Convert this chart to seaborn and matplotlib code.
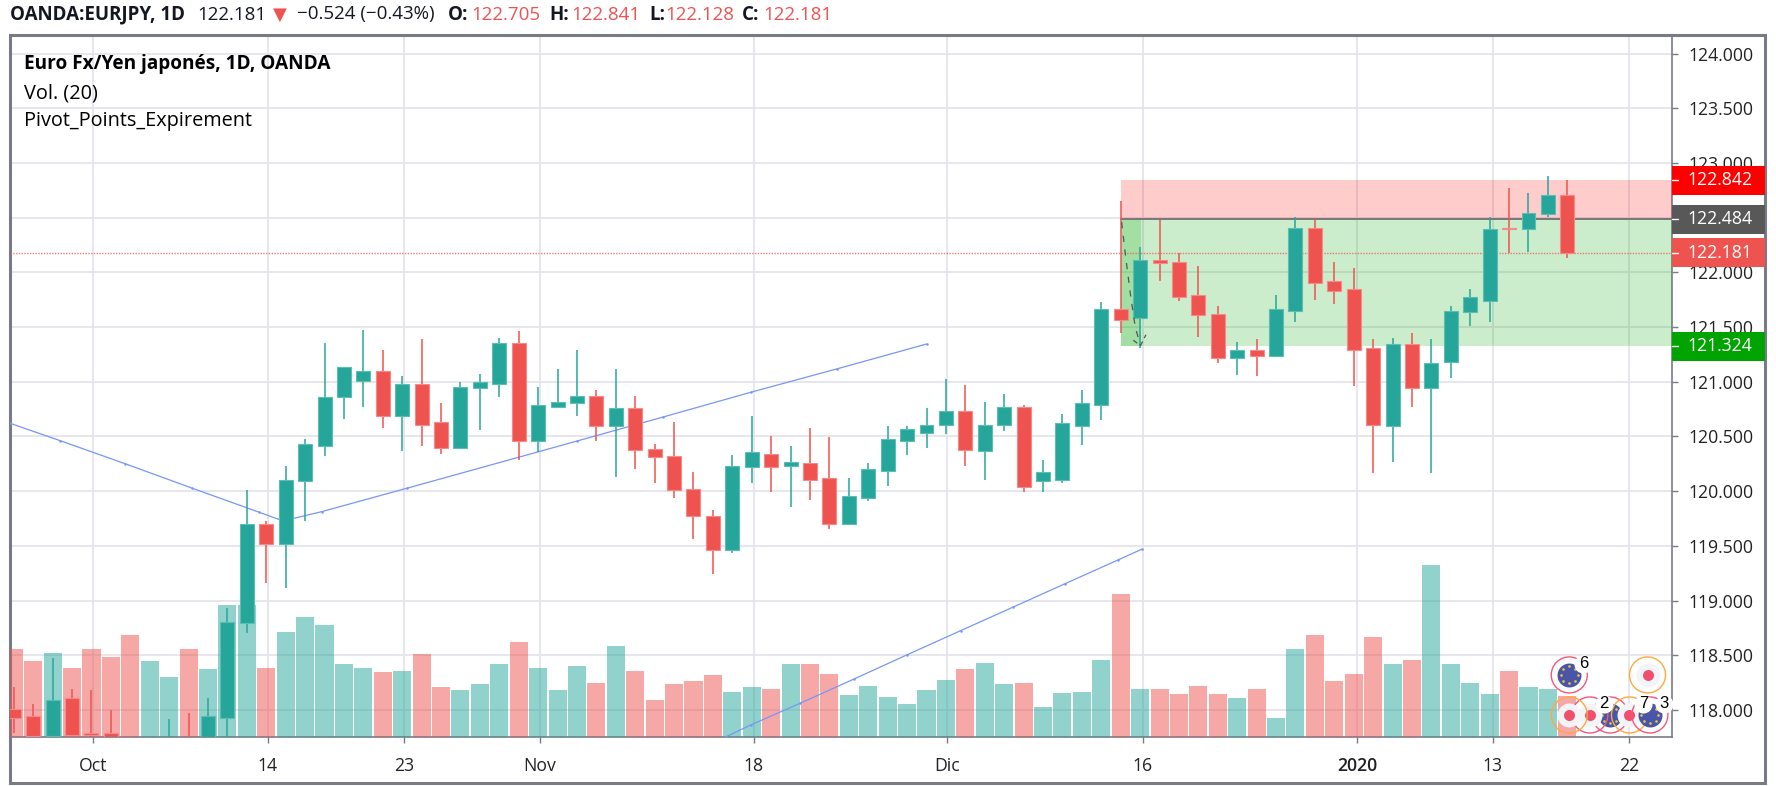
import numpy as np
import pandas as pd
import matplotlib
matplotlib.use("Agg")
import matplotlib.pyplot as plt
from matplotlib.patches import Rectangle
from matplotlib.transforms import ScaledTranslation
import seaborn as sns

W, H = 1776, 786

opens = [118.012,117.942,117.759,118.107,117.79,117.79,117.6,117.5,117.6,117.7,117.6,117.927,118.792,119.70,119.52,120.09,120.413,120.861,121.01,121.096,120.69,120.98,120.632,120.398,120.941,120.983,121.357,120.459,120.772,120.803,120.873,120.593,120.758,120.383,120.324,120.02,119.77,119.462,120.218,120.34,120.233,120.255,120.118,119.703,119.938,120.187,120.456,120.535,120.605,120.73,120.37,120.608,120.772,120.093,120.102,120.593,120.788,121.665,121.58,122.11,122.098,121.791,121.622,121.22,121.288,121.233,121.65,122.406,121.919,121.845,121.306,120.593,121.343,120.941,121.178,121.641,121.741,122.409,122.397,122.534,122.705]
closes = [117.927,117.759,118.091,117.771,117.771,117.68,117.5,117.6,117.7,117.55,117.942,118.804,119.70,119.52,120.10,120.429,120.858,121.132,121.096,120.69,120.98,120.608,120.398,120.952,120.995,121.357,120.459,120.788,120.813,120.873,120.593,120.758,120.374,120.315,120.011,119.773,119.462,120.23,120.356,120.218,120.27,120.105,119.703,119.953,120.2,120.477,120.566,120.605,120.733,120.374,120.605,120.772,120.038,120.175,120.621,120.803,121.665,121.568,122.113,122.086,121.778,121.611,121.22,121.288,121.236,121.663,122.406,121.906,121.833,121.293,120.608,121.343,120.941,121.175,121.65,121.772,122.394,122.394,122.543,122.71,122.181]
highs = [118.21,118.055,118.472,118.192,118.18,118.0,117.65,117.65,117.915,117.97,118.107,118.932,120.011,119.728,120.23,120.477,121.357,121.132,121.471,121.291,121.05,121.388,120.803,120.995,121.069,121.398,121.467,120.952,121.117,121.291,120.925,121.117,120.873,120.429,120.635,120.173,119.825,120.328,120.687,120.507,120.41,120.578,120.493,120.118,120.255,120.593,120.593,120.758,121.023,120.968,120.815,120.888,120.785,120.285,120.703,120.925,121.727,122.655,122.235,122.479,122.175,122.056,121.696,121.361,121.388,121.791,122.504,122.485,122.098,122.04,121.388,121.398,121.443,121.388,121.696,121.845,122.504,122.769,122.723,122.878,122.841]
lows = [117.787,117.65,117.68,117.68,117.68,117.634,117.45,117.45,117.5,117.5,117.55,117.68,118.707,119.164,119.115,119.728,120.324,120.663,120.772,120.58,120.37,120.413,120.343,120.398,120.562,120.861,120.285,120.358,120.772,120.69,120.456,120.132,120.206,120.075,119.938,119.56,119.24,119.432,120.075,119.993,119.853,119.922,119.657,119.703,119.908,120.045,120.328,120.398,120.52,120.23,120.102,120.55,119.996,119.993,120.079,120.422,120.651,121.443,121.306,121.919,121.739,121.412,121.175,121.065,121.053,121.233,121.544,121.75,121.708,120.964,120.162,120.267,120.772,120.162,121.037,121.513,121.544,122.175,122.186,122.504,122.128]
volumes = [88,76,84.7,69.7,88,80.7,102,76,60.3,88,68,132,132,69.7,105.3,120,112.3,73,69.7,65,66.7,83.3,50,47,53.3,73,95.7,69.7,47,71.3,54.7,91,66.7,37.3,53.3,56.3,62,45.3,50,48.3,73,73,63.3,42,51.3,40.7,33.3,47,57.3,68,74.3,53.3,54.6,30.5,44,45,77.3,143,48.3,48.3,43,51.3,43,39,48.3,19,88,102.3,56.3,63.6,100.6,73,77.3,172.3,73,54.6,43.6,66.6,50,48.3,41]

tick_pos = [4.08,13.08,20.08,27.08,38.1,48.08,58.15,69.17,76.17,83.17]
tick_labels = ["Oct","14","23","Nov","18","Dic","16","2020","13","22"]
price_ticks = [118.0,118.5,119.0,119.5,120.0,120.5,121.0,121.5,122.0,122.5,123.0,123.5,124.0]

pivot_a_x = [-0.2,2.38,5.73,9.16,12.64,13.86,15.86,20.23,29.02,33.44,37.95,42.37,47.0]
pivot_a_y = [120.621,120.462,120.251,120.029,119.807,119.728,119.813,120.026,120.459,120.678,120.904,121.117,121.345]
pivot_b_x = [36.62,37.95,40.49,43.27,46.01,48.76,51.47,54.11,56.86,58.08]
pivot_b_y = [117.75,117.863,118.061,118.283,118.505,118.725,118.941,119.152,119.371,119.469]

stop_price, entry_price, target_price, last_price = 122.842, 122.484, 121.324, 122.181

UP, DOWN = "#26a69a", "#ef5350"
GRID = "#e3e3ea"
AXIS = "#787b86"
TEXT = "#131722"

sns.set_theme(style="white")
plt.rcParams["font.family"] = ["Open Sans", "DejaVu Sans"]

fig = plt.figure(figsize=(W/100, H/100), dpi=100, facecolor="white")
L, R, T, B = 10, 1672, 35, 737.3
rect = [L/W, 1-B/H, (R-L)/W, (B-T)/H]

# layer 1: grid and axes
ax_grid = fig.add_axes(rect)
xlim = (-0.196, 85.39)
ylim = (117.75, 124.17)
ax_grid.set_xlim(xlim); ax_grid.set_ylim(ylim)
ax_grid.set_xticks(tick_pos, tick_labels)
ax_grid.set_yticks(price_ticks, [f"{p:.3f}" for p in price_ticks])
ax_grid.yaxis.tick_right()
ax_grid.grid(True, color=GRID, lw=1.25)
ax_grid.tick_params(axis="both", length=4.5, width=1, color=AXIS, labelsize=12.7, labelcolor="#222222", bottom=True, right=True)
ax_grid.tick_params(axis="x", pad=9.5)
ax_grid.tick_params(axis="y", pad=7)
for lab in ax_grid.get_xticklabels():
    if lab.get_text() == "2020":
        lab.set_fontweight("semibold")
for s in ["top", "left"]:
    ax_grid.spines[s].set_visible(False)
for s in ["right", "bottom"]:
    ax_grid.spines[s].set_color(AXIS); ax_grid.spines[s].set_linewidth(1.2)

# layer 2: volume
ax_vol = fig.add_axes(rect, facecolor="none", zorder=2)
df = pd.DataFrame({"i": np.arange(len(volumes)), "vol": volumes,
                   "dir": ["up" if c >= o else "down" for o, c in zip(opens, closes)]})
sns.barplot(data=df, x="i", y="vol", hue="dir", palette={"up": UP, "down": DOWN}, native_scale=True,
            dodge=False, width=0.93, alpha=0.5, saturation=1, legend=False, ax=ax_vol, linewidth=0)
ax_vol.set_xlim(xlim); ax_vol.set_ylim(0, B-T)
ax_vol.axis("off")

# layer 3: price marks
ax = fig.add_axes(rect, facecolor="none", zorder=3, sharex=ax_grid, sharey=ax_grid)
ax.axis("off")
ax.set_xlim(xlim); ax.set_ylim(ylim)
x = np.arange(len(opens))
o, c, h, l = map(np.array, (opens, closes, highs, lows))
up = c >= o
colors = np.where(up, UP, DOWN)
edges = np.where(up, "#5cbdb4", "#f78a88")

# position tool
ax.axhspan(entry_price, stop_price, xmin=(57-xlim[0])/(xlim[1]-xlim[0]), color="#ff0000", alpha=0.2, lw=0, zorder=1)
ax.axhspan(target_price, entry_price, xmin=(57-xlim[0])/(xlim[1]-xlim[0]), color="#00a800", alpha=0.2, lw=0, zorder=1)
ax.axvspan(57, 58.05, ymin=(target_price-ylim[0])/(ylim[1]-ylim[0]), ymax=(entry_price-ylim[0])/(ylim[1]-ylim[0]),
           color="#00a800", alpha=0.2, lw=0, zorder=1)
ax.plot([57, xlim[1]], [entry_price, entry_price], color="#777777", lw=1.4, zorder=1.5)

ax.vlines(x, l, h, colors=colors, lw=1.1, zorder=3)
ax.bar(x, c-o, bottom=o, width=0.72, color=colors, edgecolor=edges, linewidth=0.8, zorder=4)

ax.plot(pivot_a_x, pivot_a_y, color="#7896f5", lw=0.9, marker="o", ms=1.8, mew=0, zorder=2.5)
ax.plot(pivot_b_x, pivot_b_y, color="#7896f5", lw=0.9, marker="o", ms=1.8, mew=0, zorder=2.5)

# dashed path of the position tool
ax.plot([57.05, 57.25, 57.5, 57.75, 58.02], [122.46, 122.15, 121.8, 121.5, 121.33],
        color="#555555", lw=0.9, ls=(0, (5, 6)), zorder=5)
ax.plot([57.65, 58.02, 58.3], [121.38, 121.33, 121.43], color="#555555", lw=0.9, ls=(0, (4, 3)), zorder=5)

ax.axhline(last_price, color=DOWN, lw=1.0, ls=(0, (1, 1)), alpha=0.75, zorder=2)

# price tags on the scale
trans = ax.get_yaxis_transform()
tags = [(stop_price, "#ff0000"), (last_price, "#ef5350"), (entry_price, "#585858"), (target_price, "#00a300")]
tag_w = (1765-R)/(R-L)
for p, col in tags:
    ax.add_patch(Rectangle((1, p-14.5/109.4), tag_w, 29/109.4, transform=trans, facecolor=col, edgecolor="none",
                           clip_on=False, zorder=10))
    ax.text(1+(1687.5-R)/(R-L), p, f"{p:.3f}", transform=trans, color="white", fontsize=12.7, va="center", ha="left", zorder=11,
            clip_on=False)
    ax.plot([1, 1+6/(R-L)], [p, p], transform=trans, color="white", lw=1, clip_on=False, zorder=11)

# calendar event markers
def off(dx, dy):
    return ax.transData + ScaledTranslation(dx/100, dy/100, fig.dpi_scale_trans)

def ring(ix, py, col, z):
    ax.scatter([ix], [py], s=672, facecolor="none", edgecolor=col, linewidth=1, zorder=z, clip_on=False)

def flag(ix, py, z):
    ring(ix, py, "#f5567a", z)
    ax.scatter([ix], [py], s=298, color="#4a55a8", linewidth=0, zorder=z+.1, clip_on=False)
    for a in np.arange(8)*np.pi/4:
        ax.scatter([ix], [py], s=3.5, color="#e8c93c", linewidth=0, zorder=z+.2, clip_on=False,
                   transform=off(8.5*np.cos(a), 8.5*np.sin(a)))

def dot(ix, py, col, z):
    ring(ix, py, col, z)
    ax.scatter([ix], [py], s=298, color="#f2f4f8", linewidth=0, zorder=z+.1, clip_on=False)
    ax.scatter([ix], [py], s=63, color="#f0506e", linewidth=0, zorder=z+.2, clip_on=False)

def badge(ix, py, txt, z):
    t = off(14, 11)
    ax.scatter([ix], [py], s=170, color="white", linewidth=0, zorder=z, clip_on=False, transform=t)
    ax.text(ix, py, txt, transform=t, fontsize=12, color="black", ha="center", va="center", zorder=z+.1, clip_on=False,
            family="Liberation Sans")

row1, row2 = 118.32, 117.954
flag(80.1, row1, 6); badge(80.1, row1, "6", 6.5)
dot(84.13, row1, "#ffa840", 6)
flag(82.2, row2, 6.0)
dot(81.16, row2, "#f5567a", 6.4)
dot(80.1, row2, "#ffa840", 7)
dot(83.2, row2, "#ffa840", 7.2)
flag(84.25, row2, 7.4)
badge(81.16, row2, "2", 8.5)
badge(83.2, row2, "7", 8.6)
badge(84.25, row2, "3", 8.7)

# outer frame
fig.add_artist(Rectangle((L/W, 1-782.7/H), (1765-L)/W, (782.7-T)/H, transform=fig.transFigure,
                         facecolor="none", edgecolor=AXIS, lw=2.2))

# header
def px_text(xp, yp, s, **kw):
    fig.text(xp/W, 1-yp/H, s, va="center", ha="left", **kw)

hdr = dict(fontsize=13.5, color=TEXT)
px_text(9.5, 14.5, "OANDA:EURJPY, 1D", fontweight="bold", **hdr)
px_text(197, 14.5, "122.181", **hdr)
fig.text(279.5/W, 1-14.5/H, "▼", color=DOWN, fontsize=13, ha="center", va="center", family="DejaVu Sans")
px_text(296.5, 14.5, "−0.524 (−0.43%)", **hdr)
px_text(448, 14.5, "O:", fontweight="bold", **hdr)
px_text(471.5, 14.5, "122.705", fontsize=13.5, color=DOWN)
px_text(549, 14.5, "H:", fontweight="bold", **hdr)
px_text(571, 14.5, "122.841", fontsize=13.5, color=DOWN)
px_text(649, 14.5, "L:", fontweight="bold", **hdr)
px_text(665, 14.5, "122.128", fontsize=13.5, color=DOWN)
px_text(742, 14.5, "C:", fontweight="bold", **hdr)
px_text(763, 14.5, "122.181", fontsize=13.5, color=DOWN)

# pane legend
px_text(23.5, 64.5, "Euro Fx/Yen japonés, 1D, OANDA", fontsize=13.7, fontweight="bold", color="black")
px_text(23.5, 93.5, "Vol. (20)", fontsize=14.3, color="black")
px_text(23.5, 121, "Pivot_Points_Expirement", fontsize=14.3, color="black")

fig.savefig("out.png", dpi=100)
